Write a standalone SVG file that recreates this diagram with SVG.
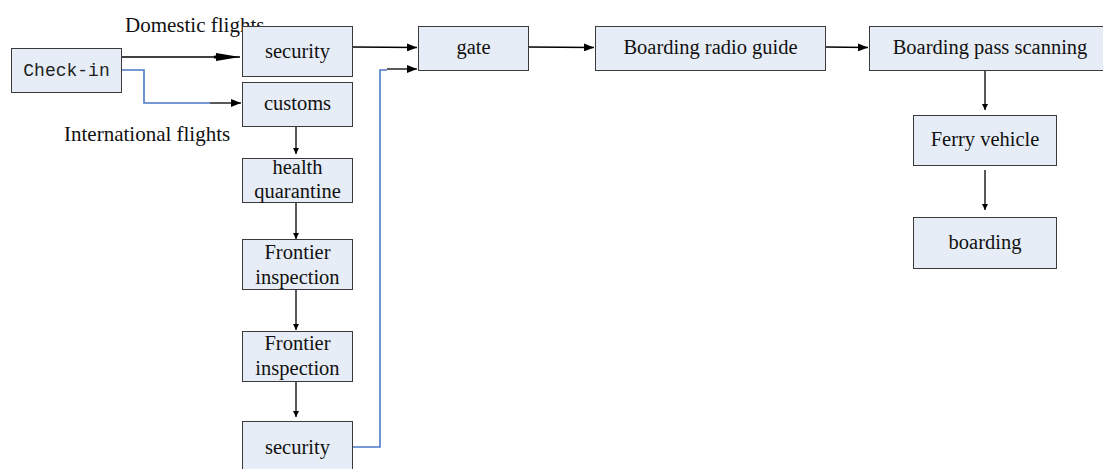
<svg xmlns="http://www.w3.org/2000/svg" width="1103" height="469" viewBox="0 0 1103 469">
<style>
.box{fill:#e7edf6;stroke:#3a3a3a;stroke-width:1}
.t{font-family:"Liberation Serif",serif;font-size:20.5px;fill:#111;text-anchor:middle}
.lbl{font-family:"Liberation Serif",serif;font-size:21px;fill:#111}
.mono{font-family:"Liberation Mono",monospace;font-size:18px;fill:#222;text-anchor:middle}
.k{fill:none;stroke:#000;stroke-width:1.3}
.b{fill:none;stroke:#4a78c8;stroke-width:1.6}
</style>
<defs>
<marker id="ah" markerWidth="10" markerHeight="8" refX="10" refY="4" orient="auto" markerUnits="userSpaceOnUse"><path d="M0,0 L10,4 L0,8 Z" fill="#000"/></marker>
<marker id="ahs" markerWidth="6" markerHeight="6" refX="6" refY="3" orient="auto" markerUnits="userSpaceOnUse"><path d="M0,0 L6,3 L0,6 Z" fill="#000"/></marker>
<marker id="ahb" markerWidth="26" markerHeight="8" refX="26" refY="4" orient="auto" markerUnits="userSpaceOnUse"><path d="M0,2.5 L26,4 L0,5.5 Z M2,0 L26,4 L2,8 Z" fill="#000"/></marker>
</defs>
<g id="connectors">
<path class="k" d="M122,57 L240,57" marker-end="url(#ahb)"/>
<path class="b" d="M122,70 L144,70 L144,103 L210,103"/>
<path class="k" d="M210,103 L241,103" marker-end="url(#ah)"/>
<path class="k" d="M353,47 L417,47.5" marker-end="url(#ah)"/>
<path class="k" d="M528,47 L594,47.5" marker-end="url(#ah)"/>
<path class="k" d="M825,47 L868,47.5" marker-end="url(#ah)"/>
<path class="b" d="M353,447 L380,447 L380,70 L387,70"/>
<path class="k" d="M387,69 L417,69" marker-end="url(#ah)"/>
<path class="k" d="M296,126 L296,154" marker-end="url(#ahs)"/>
<path class="k" d="M296,202 L296,239" marker-end="url(#ahs)"/>
<path class="k" d="M296,290 L296,330" marker-end="url(#ahs)"/>
<path class="k" d="M296,381 L296,417" marker-end="url(#ahs)"/>
<path class="k" d="M985,70 L985,110" marker-end="url(#ahs)"/>
<path class="k" d="M985,170 L985,210" marker-end="url(#ahs)"/>
</g>
<text class="lbl" x="125" y="32">Domestic flights</text>
<text class="lbl" x="64" y="141">International flights</text>
<g id="checkin"><rect class="box" x="11.5" y="48.5" width="110" height="44"/><text class="mono" x="66.5" y="76">Check-in</text></g>
<g id="security1"><rect class="box" x="242.5" y="26.5" width="110" height="50"/><text class="t" x="297.5" y="58">security</text></g>
<g id="customs"><rect class="box" x="242.5" y="82.5" width="110" height="44"/><text class="t" x="297.5" y="110">customs</text></g>
<g id="health"><rect class="box" x="242.5" y="158.5" width="110" height="44"/><text class="t" x="297.5" y="174">health</text><text class="t" x="297.5" y="198">quarantine</text></g>
<g id="frontier1"><rect class="box" x="242.5" y="239.5" width="110" height="50"/><text class="t" x="297.5" y="259">Frontier</text><text class="t" x="297.5" y="284">inspection</text></g>
<g id="frontier2"><rect class="box" x="242.5" y="331.5" width="110" height="50"/><text class="t" x="297.5" y="350">Frontier</text><text class="t" x="297.5" y="375">inspection</text></g>
<g id="security2"><rect class="box" x="242.5" y="421.5" width="110" height="52"/><text class="t" x="297.5" y="454">security</text></g>
<g id="gate"><rect class="box" x="418.5" y="26.5" width="110" height="44"/><text class="t" x="473.5" y="54">gate</text></g>
<g id="radio"><rect class="box" x="595.5" y="26.5" width="230" height="44"/><text class="t" x="710.5" y="54">Boarding radio guide</text></g>
<g id="scan"><rect class="box" x="869.5" y="26.5" width="236" height="44"/><text class="t" x="990" y="54">Boarding pass scanning</text></g>
<g id="ferry"><rect class="box" x="913.5" y="115.5" width="143" height="50"/><text class="t" x="985" y="146">Ferry vehicle</text></g>
<g id="boarding"><rect class="box" x="913.5" y="217.5" width="143" height="51"/><text class="t" x="985" y="249">boarding</text></g>
</svg>
